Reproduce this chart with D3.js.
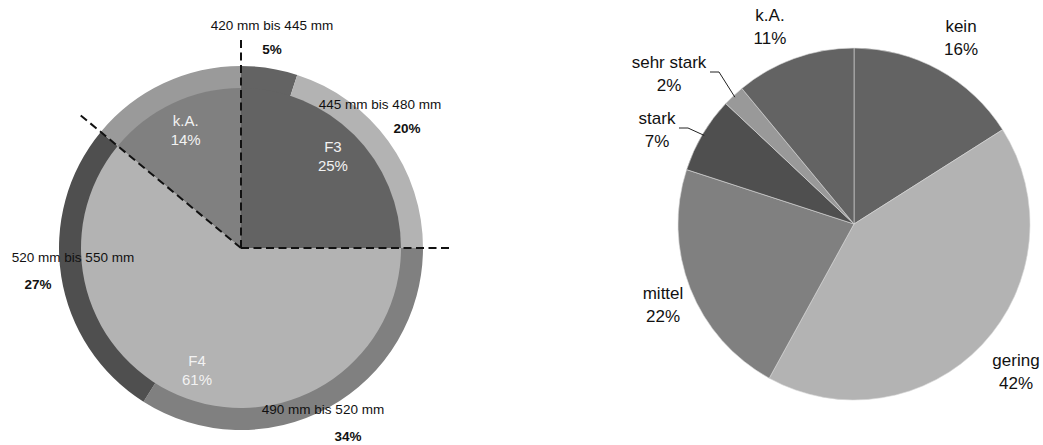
<!DOCTYPE html>
<html>
<head>
<meta charset="utf-8">
<script src="https://cdn.jsdelivr.net/npm/d3@7/dist/d3.min.js"></script>
<style>
  html, body { margin: 0; padding: 0; background: #fff; }
  svg { display: block; font-family: "Liberation Sans", Arial, sans-serif; }
</style>
</head>
<body>
<svg id="chart" width="1043" height="445"></svg>
<script>
// Left chart: inner pie (classes) and outer ring (length bands)
const innerCategories = ["F3", "F4", "k.A."];
const innerValues = [25, 61, 14];
const ringCategories = ["420 mm bis 445 mm", "445 mm bis 480 mm", "490 mm bis 520 mm", "520 mm bis 550 mm", "k.A."];
const ringValues = [5, 20, 34, 27, 14];

// Right chart: damage degree
const damageCategories = ["kein", "gering", "mittel", "stark", "sehr stark", "k.A."];
const damageValues = [16, 42, 22, 7, 2, 11];

const innerColors = { "F3": "#636363", "F4": "#b3b3b3", "k.A.": "#808080" };
const ringColors = {
  "420 mm bis 445 mm": "#636363",
  "445 mm bis 480 mm": "#b3b3b3",
  "490 mm bis 520 mm": "#808080",
  "520 mm bis 550 mm": "#4f4f4f",
  "k.A.": "#9a9a9a"
};
const damageColors = {
  "kein": "#636363", "gering": "#b3b3b3", "mittel": "#808080",
  "stark": "#4f4f4f", "sehr stark": "#999999", "k.A.": "#636363"
};

const svg = d3.select("#chart");
const pie = d3.pie().sort(null).value(d => d.v);

// ---------- left chart ----------
const L = { cx: 241, cy: 248, rIn: 160, rOut: 182, labelR: 130, guideLen: 211 };
const gL = svg.append("g").attr("transform", `translate(${L.cx},${L.cy})`);

const innerArcs = pie(innerCategories.map((c, i) => ({ c, v: innerValues[i] })));
const ringArcs = pie(ringCategories.map((c, i) => ({ c, v: ringValues[i] })));

const ringArc = d3.arc().innerRadius(L.rIn - 1).outerRadius(L.rOut);
gL.selectAll("path.ring").data(ringArcs).join("path")
  .attr("class", "ring")
  .attr("d", ringArc)
  .attr("fill", d => ringColors[d.data.c]);

const innerArc = d3.arc().innerRadius(0).outerRadius(L.rIn);
gL.selectAll("path.inner").data(innerArcs).join("path")
  .attr("class", "inner")
  .attr("d", innerArc)
  .attr("fill", d => innerColors[d.data.c]);

// dashed guides along the class boundaries
const boundaries = innerArcs.map(d => d.startAngle);
gL.selectAll("line.guide").data(boundaries).join("line")
  .attr("class", "guide")
  .attr("x1", 0).attr("y1", 0)
  .attr("x2", a => L.guideLen * Math.sin(a))
  .attr("y2", a => -L.guideLen * Math.cos(a))
  .attr("stroke", "#111")
  .attr("stroke-width", 2)
  .attr("stroke-dasharray", "8,4.5");

// class labels inside the pie
const labelArc = d3.arc().innerRadius(L.labelR).outerRadius(L.labelR);
const innerLabels = gL.selectAll("text.inner").data(innerArcs).join("text")
  .attr("class", "inner")
  .attr("text-anchor", "middle")
  .attr("font-size", 15)
  .attr("fill", "#f2f2f2")
  .attr("transform", d => `translate(${labelArc.centroid(d)})`);
innerLabels.append("tspan").attr("x", 0).attr("y", -4).text(d => d.data.c);
innerLabels.append("tspan").attr("x", 0).attr("y", 15).text(d => d.data.v + "%");

// band labels around the ring
const ringLabelPos = {
  "420 mm bis 445 mm": { name: [272, 25], pct: [272, 49] },
  "445 mm bis 480 mm": { name: [380, 104], pct: [407, 128] },
  "490 mm bis 520 mm": { name: [323, 409], pct: [348, 436] },
  "520 mm bis 550 mm": { name: [73, 257], pct: [38, 284] }
};
ringArcs.filter(d => ringLabelPos[d.data.c]).forEach(d => {
  const p = ringLabelPos[d.data.c];
  svg.append("text").attr("x", p.name[0]).attr("y", p.name[1] + 5)
    .attr("text-anchor", "middle").attr("font-size", 13.5).attr("fill", "#111")
    .text(d.data.c);
  svg.append("text").attr("x", p.pct[0]).attr("y", p.pct[1] + 5)
    .attr("text-anchor", "middle").attr("font-size", 13.5).attr("font-weight", "bold").attr("fill", "#111")
    .text(d.data.v + "%");
});

// ---------- right chart ----------
const R = { cx: 854, cy: 224, r: 176 };
const gR = svg.append("g").attr("transform", `translate(${R.cx},${R.cy})`);
const damageArcs = pie(damageCategories.map((c, i) => ({ c, v: damageValues[i] })));
const dArc = d3.arc().innerRadius(0).outerRadius(R.r);
gR.selectAll("path").data(damageArcs).join("path")
  .attr("d", dArc)
  .attr("fill", d => damageColors[d.data.c])
  .attr("stroke", "#d9d9d9")
  .attr("stroke-width", 0.6);

const damageLabelPos = {
  "kein": [961, 26], "gering": [1016, 360], "mittel": [663, 293],
  "stark": [657, 118], "sehr stark": [669, 62], "k.A.": [770, 15]
};
const leaderStart = { "stark": [679, 128], "sehr stark": [710, 72] };

damageArcs.forEach(d => {
  const p = damageLabelPos[d.data.c];
  const t = svg.append("text").attr("text-anchor", "middle").attr("font-size", 17).attr("fill", "#111");
  t.append("tspan").attr("x", p[0]).attr("y", p[1] + 6).text(d.data.c);
  t.append("tspan").attr("x", p[0]).attr("y", p[1] + 29).text(d.data.v + "%");
  const s = leaderStart[d.data.c];
  if (s) {
    const mid = (d.startAngle + d.endAngle) / 2;
    const ex = R.cx + (R.r - 2) * Math.sin(mid), ey = R.cy - (R.r - 2) * Math.cos(mid);
    svg.append("polyline")
      .attr("points", `${s[0]},${s[1]} ${s[0] + 9},${s[1]} ${ex},${ey}`)
      .attr("fill", "none").attr("stroke", "#222").attr("stroke-width", 1);
  }
});
</script>
</body>
</html>
